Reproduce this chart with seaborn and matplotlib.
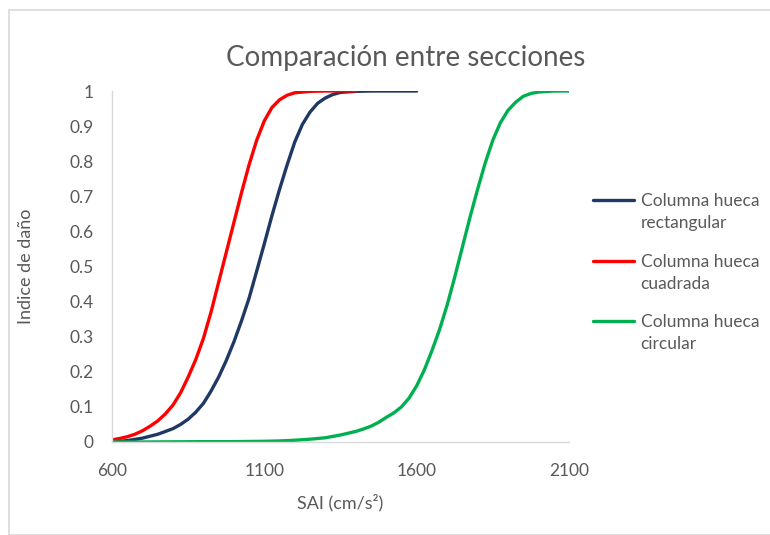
import matplotlib.pyplot as plt
import seaborn as sns
import pandas as pd
from matplotlib.patches import Rectangle
from matplotlib.ticker import FuncFormatter
from matplotlib.legend_handler import HandlerLine2D

# Valores (SAI en cm/s², índice de daño)
sai_rect = [600, 650, 700, 750, 800, 825, 850, 875, 900, 925, 950, 975, 1000, 1025, 1050,
            1075, 1100, 1125, 1150, 1175, 1200, 1225, 1250, 1275, 1300, 1325, 1350, 1400,
            1450, 1500, 1550, 1600]
dano_rect = [0.0, 0.004, 0.011, 0.022, 0.038, 0.05, 0.065, 0.085, 0.11, 0.145, 0.185, 0.232,
             0.285, 0.345, 0.41, 0.487, 0.565, 0.645, 0.72, 0.79, 0.855, 0.905, 0.94, 0.965,
             0.98, 0.99, 0.996, 0.999, 1.0, 1.0, 1.0, 1.0]

sai_cuad = [600, 625, 650, 675, 700, 725, 750, 775, 800, 825, 850, 875, 900, 925, 950, 975,
            1000, 1025, 1050, 1075, 1100, 1125, 1150, 1175, 1200, 1250, 1300, 1350, 1400]
dano_cuad = [0.006, 0.01, 0.015, 0.022, 0.032, 0.045, 0.06, 0.08, 0.105, 0.14, 0.185, 0.235,
             0.295, 0.37, 0.455, 0.54, 0.625, 0.71, 0.79, 0.86, 0.915, 0.953, 0.975, 0.988,
             0.995, 0.999, 1.0, 1.0, 1.0]

sai_circ = [600, 700, 800, 900, 1000, 1100, 1150, 1200, 1250, 1300, 1350, 1400, 1425, 1450,
            1475, 1500, 1525, 1550, 1575, 1600, 1625, 1650, 1675, 1700, 1725, 1750, 1775,
            1800, 1825, 1850, 1875, 1900, 1925, 1950, 1975, 2000, 2050, 2100]
dano_circ = [0.0, 0.0, 0.0005, 0.001, 0.001, 0.002, 0.003, 0.005, 0.008, 0.012, 0.02, 0.03,
             0.037, 0.045, 0.056, 0.07, 0.083, 0.1, 0.125, 0.16, 0.205, 0.26, 0.32, 0.39,
             0.47, 0.555, 0.64, 0.72, 0.795, 0.86, 0.91, 0.945, 0.968, 0.985, 0.993, 0.997,
             1.0, 1.0]

series = ['Columna hueca\nrectangular', 'Columna hueca\ncuadrada', 'Columna hueca\ncircular']
colores = ['#203864', '#FF0000', '#00B050']

df = pd.concat([
    pd.DataFrame({'SAI': sai_rect, 'dano': dano_rect, 'serie': series[0]}),
    pd.DataFrame({'SAI': sai_cuad, 'dano': dano_cuad, 'serie': series[1]}),
    pd.DataFrame({'SAI': sai_circ, 'dano': dano_circ, 'serie': series[2]}),
])

sns.set_style('white')
plt.rcParams['font.family'] = ['Lato', 'DejaVu Sans']
gris = '#595959'


class HandlerArriba(HandlerLine2D):
    # el trazo de la leyenda va a la altura de la primera línea del texto
    def create_artists(self, legend, orig_handle, xdescent, ydescent, width, height, fontsize, trans):
        arts = super().create_artists(legend, orig_handle, xdescent, ydescent, width, height,
                                      fontsize, trans)
        for a in arts:
            a.set_ydata([y + 0.7 * fontsize for y in a.get_ydata()])
        return arts


fig = plt.figure(figsize=(7.7, 5.35), dpi=100)
fig.patches.append(Rectangle((9 / 770, 0), 1, 1 - 10 / 535, transform=fig.transFigure,
                             fill=False, edgecolor='#d9d9d9', linewidth=1.2))
ax = fig.add_axes([112 / 770, (535 - 442) / 535, 457 / 770, 351 / 535])

sns.lineplot(data=df, x='SAI', y='dano', hue='serie', palette=colores,
             linewidth=2.4, ax=ax, legend=False)

ax.set_xlim(600, 2100)
ax.set_ylim(0, 1)
ax.set_xticks([600, 1100, 1600, 2100])
ax.set_yticks([i / 10 for i in range(11)])
ax.yaxis.set_major_formatter(FuncFormatter(lambda v, p: f'{v:g}'))
ax.tick_params(axis='both', length=0, labelsize=12.5, labelcolor=gris)
ax.tick_params(axis='x', pad=15)
ax.tick_params(axis='y', pad=13)
for s in ['top', 'right']:
    ax.spines[s].set_visible(False)
for s in ['left', 'bottom']:
    ax.spines[s].set_color('#d9d9d9')
    ax.spines[s].set_linewidth(1)

ax.set_xlabel('SAI (cm/s²)', fontsize=13, color=gris)
ax.set_ylabel('Indice de daño', fontsize=13, color=gris)
ax.xaxis.set_label_coords(0.5, -(503 - 442) / 351)
ax.yaxis.set_label_coords(-(112 - 26) / 457, 0.5)
ax.xaxis.label.set_va('center')
ax.yaxis.label.set_va('center')
fig.text(406 / 770, 1 - 58 / 535, 'Comparación entre secciones', ha='center', va='center',
         fontsize=20, color=gris)

handles = [plt.Line2D([], [], color=c, linewidth=2.4) for c in colores]
leg = fig.legend(handles, series, loc='upper left', bbox_to_anchor=(593 / 770, 1 - 193 / 535),
                 frameon=False, fontsize=12.5, handlelength=2.35, handletextpad=0.4,
                 labelspacing=1.3, borderpad=0, borderaxespad=0,
                 handler_map={plt.Line2D: HandlerArriba()})
for t in leg.get_texts():
    t.set_color(gris)
    t.set_linespacing(1.46)

fig.savefig('out.png', dpi=100)
